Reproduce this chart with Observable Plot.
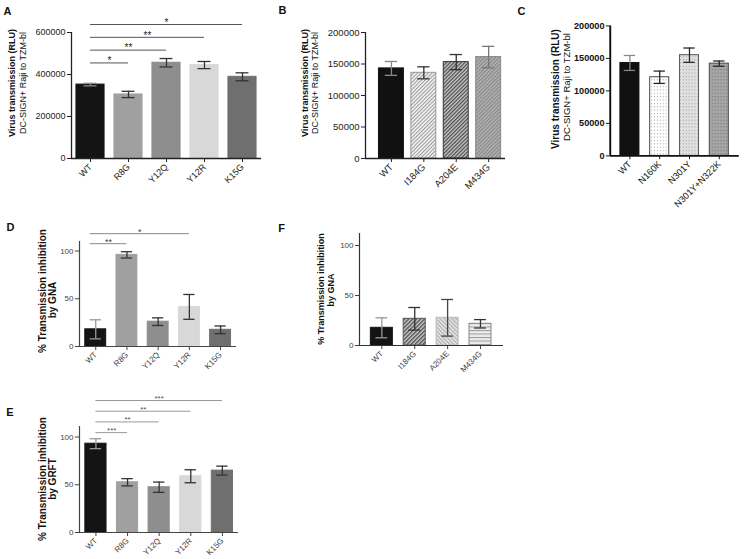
<!DOCTYPE html>
<html>
<head>
<meta charset="utf-8">
<script src="https://cdn.jsdelivr.net/npm/d3@7"></script>
<script src="https://cdn.jsdelivr.net/npm/@observablehq/plot@0.6"></script>
<style>
  html, body { margin: 0; padding: 0; background: #fff; }
  #wrap { position: relative; width: 750px; height: 559px; overflow: hidden; background: #fff;
          font-family: "Liberation Sans", Arial, sans-serif; }
  .pane { position: absolute; }
  .rt { position: absolute; white-space: nowrap; line-height: 1; color: #111;
        transform: translate(-50%, -50%) rotate(-90deg); }
  .lt { position: absolute; font-weight: bold; color: #111; line-height: 1; transform: translate(-50%, -50%); }
</style>
</head>
<body>
<svg width="0" height="0" style="position:absolute">
  <defs>
    <pattern id="hatchLight" patternUnits="userSpaceOnUse" width="2.6" height="2.6" patternTransform="rotate(45)">
      <rect width="2.6" height="2.6" fill="#f2f2f2"/><rect x="0" y="0" width="1" height="2.6" fill="#9a9a9a"/>
    </pattern>
    <pattern id="hatchDark" patternUnits="userSpaceOnUse" width="2.6" height="2.6" patternTransform="rotate(45)">
      <rect width="2.6" height="2.6" fill="#c8c8c8"/><rect x="0" y="0" width="1.2" height="2.6" fill="#4a4a4a"/>
    </pattern>
    <pattern id="hatchMid" patternUnits="userSpaceOnUse" width="2.6" height="2.6" patternTransform="rotate(45)">
      <rect width="2.6" height="2.6" fill="#b0b0b0"/><rect x="0" y="0" width="1" height="2.6" fill="#858585"/>
    </pattern>
    <pattern id="dotsWhite" patternUnits="userSpaceOnUse" width="3" height="3.5">
      <rect width="3" height="3.5" fill="#fff"/><rect x="1" y="1" width="1" height="1" fill="#9a9a9a"/>
    </pattern>
    <pattern id="dotsLight" patternUnits="userSpaceOnUse" width="3" height="3.5">
      <rect width="3" height="3.5" fill="#e0e0e0"/><rect x="1" y="1" width="1" height="1" fill="#999"/>
    </pattern>
    <pattern id="dotsDark" patternUnits="userSpaceOnUse" width="3" height="3.5">
      <rect width="3" height="3.5" fill="#a6a6a6"/><rect x="1" y="1" width="1" height="1" fill="#666"/>
    </pattern>
    <pattern id="hatchF1" patternUnits="userSpaceOnUse" width="2.8" height="2.8" patternTransform="rotate(45)">
      <rect width="2.8" height="2.8" fill="#c4c4c4"/><rect x="0" y="0" width="1.2" height="2.8" fill="#444"/>
    </pattern>
    <pattern id="hatchF2" patternUnits="userSpaceOnUse" width="2.8" height="2.8" patternTransform="rotate(-45)">
      <rect width="2.8" height="2.8" fill="#e4e4e4"/><rect x="0" y="0" width="1.1" height="2.8" fill="#aaa"/>
    </pattern>
    <pattern id="stripesH" patternUnits="userSpaceOnUse" width="4" height="3.5">
      <rect width="4" height="3.5" fill="#ececec"/><rect x="0" y="0" width="4" height="1" fill="#9a9a9a"/>
    </pattern>
  </defs>
</svg>
<div id="wrap"></div>
<script>
// ---------------- data ----------------
const catsA = ["WT", "R8G", "Y12Q", "Y12R", "K15G"];
const valsA = [352000, 305000, 456000, 445000, 389000];
const errsA = [6000, 15000, 20000, 17000, 19000];
const sigA = [["WT", "R8G", "*"], ["WT", "Y12Q", "**"], ["WT", "Y12R", "**"], ["WT", "K15G", "*"]];

const catsB = ["WT", "I184G", "A204E", "M434G"];
const valsB = [143000, 136000, 153000, 161000];
const errsB = [11000, 9500, 12000, 17000];

const catsC = ["WT", "N160K", "N301Y", "N301Y+N322K"];
const valsC = [143000, 121000, 155000, 142000];
const errsC = [11500, 9500, 11000, 4000];

const catsD = ["WT", "R8G", "Y12Q", "Y12R", "K15G"];
const valsD = [18, 96, 26, 41.5, 17.5];
const errsD = [10, 3.3, 4, 13, 4];
const sigD = [["WT", "R8G", "**"], ["WT", "Y12R", "*"]];

const catsE = ["WT", "R8G", "Y12Q", "Y12R", "K15G"];
const valsE = [93, 52.6, 47.4, 58.9, 64.8];
const errsE = [5.2, 3.8, 5.4, 6.8, 4.7];
const sigE = [["WT", "R8G", "***"], ["WT", "Y12Q", "**"], ["WT", "Y12R", "**"], ["WT", "K15G", "***"]];

const catsF = ["WT", "I184G", "A204E", "M434G"];
const valsF = [17.7, 26.7, 27.7, 21.7];
const errsF = [10, 11.3, 18.3, 4.2];

const ticksRLU600 = [0, 200000, 400000, 600000];
const ticksRLU200 = [0, 50000, 100000, 150000, 200000];
const ticksPct = [0, 50, 100];

// ---------------- styles ----------------
const FONT = "Liberation Sans, Arial, sans-serif";
const greysA = ["#141414", "#a0a0a0", "#8e8e8e", "#d8d8d8", "#6f6f6f"];
const errGreysA = ["#8a8a8a", "#333", "#333", "#333", "#333"];

const wrap = document.getElementById("wrap");

function drawPanel(cfg) {
  const n = cfg.cats.length;
  const data = cfg.cats.map((c, i) => ({i, c, v: cfg.vals[i], e: cfg.errs[i]}));
  const bw = cfg.barW / 2, cw = cfg.capW / 2;
  const mL = 60, mR = 12, mT = cfg.mT, mB = cfg.mB;
  const idx = Object.fromEntries(cfg.cats.map((c, i) => [c, i]));
  const comps = (cfg.sig || []).map(([a, b, t], k) => ({x1: idx[a] - (cfg.sigStart || 0), x2: idx[b], t, y: cfg.sigBase + k * cfg.sigStep}));
  const width = Math.round(cfg.right - cfg.left) + mL + mR;
  const height = Math.round(cfg.bottom - cfg.top) + mT + mB;
  const svg = Plot.plot({
    width, height,
    marginLeft: mL, marginRight: mR, marginTop: mT, marginBottom: mB,
    style: {fontFamily: FONT, fontSize: cfg.tickFont + "px", color: cfg.tickColor, background: "transparent", overflow: "visible"},
    x: {type: "linear", domain: [-cfg.gapL, n - 1 + cfg.gapR], ticks: d3.range(n), tickFormat: i => cfg.cats[i],
        tickRotate: -45, tickSize: 4, tickPadding: 3, label: null},
    y: {domain: [0, cfg.ymax], ticks: cfg.yTicks, tickFormat: d3.format("d"), tickSize: 4, tickPadding: 2, label: null},
    color: {type: "identity"},
    marks: [
      Plot.rectY(data, {x1: d => d.i - bw, x2: d => d.i + bw, y1: 0, y2: d => d.v,
                        fill: d => cfg.fill[d.i], stroke: d => cfg.stroke[d.i], strokeWidth: 1}),
      Plot.ruleX(data, {x: d => d.i, y1: d => d.v - d.e, y2: d => d.v + d.e, stroke: d => cfg.err[d.i], strokeWidth: 1.3}),
      Plot.ruleY(data, {y: d => d.v + d.e, x1: d => d.i - cw, x2: d => d.i + cw, stroke: d => cfg.err[d.i], strokeWidth: 1.3}),
      Plot.ruleY(data, {y: d => d.v - d.e, x1: d => d.i - cw, x2: d => d.i + cw, stroke: d => cfg.err[d.i], strokeWidth: 1.3}),
      Plot.ruleY([0], {stroke: cfg.axis, strokeWidth: cfg.axisW}),
      Plot.ruleX([-cfg.gapL], {stroke: cfg.axis, strokeWidth: cfg.axisW}),
      Plot.ruleY(comps, {y: "y", x1: "x1", x2: "x2", stroke: cfg.sigColor, strokeWidth: 1}),
      Plot.text(comps, {x: d => (d.x1 + d.x2) / 2, y: "y", text: "t", dy: cfg.sigDy, fill: cfg.sigText, fontSize: cfg.sigFont})
    ]
  });
  if (cfg.tickBold) {
    svg.querySelectorAll('[aria-label^="y-axis"]').forEach(g => g.setAttribute("font-weight", "bold"));
  }
  const div = document.createElement("div");
  div.className = "pane";
  div.style.left = (cfg.left - mL) + "px";
  div.style.top = (cfg.top - mT) + "px";
  div.appendChild(svg);
  wrap.appendChild(div);
}

function rotText(text, cx, cy, size, weight) {
  const d = document.createElement("div");
  d.className = "rt";
  d.textContent = text;
  d.style.left = cx + "px"; d.style.top = cy + "px";
  d.style.fontSize = size + "px"; d.style.fontWeight = weight;
  wrap.appendChild(d);
}
function letter(text, cx, cy) {
  const d = document.createElement("div");
  d.className = "lt";
  d.textContent = text;
  d.style.left = cx + "px"; d.style.top = cy + "px";
  d.style.fontSize = "11px";
  wrap.appendChild(d);
}

// Panel A
drawPanel({cats: catsA, vals: valsA, errs: errsA, sig: sigA,
  left: 71, right: 261, top: 32.3, bottom: 158.7, ymax: 600000, yTicks: ticksRLU600,
  gapL: 0.5, gapR: 0.5, barW: 0.74, capW: 0.34, mT: 30, mB: 50,
  sigBase: 455000, sigStep: 61000, sigColor: "#555", sigText: "#222", sigFont: 10, sigDy: -2,
  fill: greysA, stroke: greysA, err: errGreysA,
  tickFont: 9, tickColor: "#222", axis: "#222", axisW: 1.3});

// Panel B
drawPanel({cats: catsB, vals: valsB, errs: errsB,
  left: 365, right: 505, top: 32.3, bottom: 158.3, ymax: 200000, yTicks: ticksRLU200,
  gapL: 0.8, gapR: 0.52, barW: 0.77, capW: 0.38, mT: 20, mB: 50,
  fill: ["#111", "url(#hatchLight)", "url(#hatchDark)", "url(#hatchMid)"],
  stroke: ["#111", "#999", "#333", "#888"], err: ["#888", "#333", "#333", "#777"],
  tickFont: 9.5, tickColor: "#222", axis: "#222", axisW: 1.3});

// Panel C
drawPanel({cats: catsC, vals: valsC, errs: errsC,
  left: 611.7, right: 746, top: 25.7, bottom: 161, ymax: 200000, yTicks: ticksRLU200,
  gapL: 0.66, gapR: 0.67, barW: 0.64, capW: 0.38, mT: 15, mB: 60,
  fill: ["#111", "url(#dotsWhite)", "url(#dotsLight)", "url(#dotsDark)"],
  stroke: ["#111", "#444", "#555", "#444"], err: ["#888", "#222", "#222", "#222"],
  tickFont: 9.5, tickBold: true, tickColor: "#111", axis: "#111", axisW: 2});

// Panel D
drawPanel({cats: catsD, vals: valsD, errs: errsD, sig: sigD,
  left: 79.3, right: 236.7, top: 240.5, bottom: 345, ymax: 110, yTicks: ticksPct,
  gapL: 0.52, gapR: 0.51, barW: 0.67, capW: 0.36, mT: 20, mB: 50,
  sigBase: 107.7, sigStep: 10.5, sigStart: 0.18, sigColor: "#888", sigText: "#444", sigFont: 9, sigDy: -2,
  fill: greysA, stroke: greysA, err: ["#999", "#333", "#333", "#333", "#333"],
  tickFont: 8, tickColor: "#444", axis: "#444", axisW: 1.2});

// Panel E
drawPanel({cats: catsE, vals: valsE, errs: errsE, sig: sigE,
  left: 79, right: 238.3, top: 426.2, bottom: 532.3, ymax: 111, yTicks: ticksPct,
  gapL: 0.52, gapR: 0.51, barW: 0.67, capW: 0.36, mT: 35, mB: 40,
  sigBase: 104.6, sigStep: 11.2, sigColor: "#999", sigText: "#555", sigFont: 8, sigDy: -2,
  fill: greysA, stroke: greysA, err: ["#999", "#333", "#333", "#333", "#333"],
  tickFont: 8, tickColor: "#444", axis: "#444", axisW: 1.2});

// Panel F
drawPanel({cats: catsF, vals: valsF, errs: errsF,
  left: 359.3, right: 503, top: 233, bottom: 345, ymax: 112, yTicks: ticksPct,
  gapL: 0.68, gapR: 0.7, barW: 0.67, capW: 0.36, mT: 15, mB: 50,
  fill: ["#141414", "url(#hatchF1)", "url(#hatchF2)", "url(#stripesH)"],
  stroke: ["#141414", "#555", "#bbb", "#888"], err: ["#999", "#333", "#444", "#333"],
  tickFont: 8, tickColor: "#444", axis: "#333", axisW: 1.2});

// Axis titles
rotText("Virus transmission  (RLU)", 12, 82.5, 9, "bold");
rotText("DC-SIGN+ Raji to TZM-bl", 23, 82.5, 9, "normal");
rotText("Virus transmission  (RLU)", 305, 82.5, 9, "bold");
rotText("DC-SIGN+ Raji to TZM-bl", 315, 82.5, 9, "normal");
rotText("Virus transmission  (RLU)", 556, 89, 10, "bold");
rotText("DC-SIGN+ Raji to TZM-bl", 567, 87, 9.5, "normal");
rotText("% Transmission inhibition", 43, 291, 10, "bold");
rotText("by GNA", 53, 300, 10, "bold");
rotText("% Transmission inhibition", 43, 479, 10, "bold");
rotText("by GRFT", 53, 479, 10, "bold");
rotText("% Transmission inhibition", 321, 289, 9, "bold");
rotText("by GNA", 331, 290, 9, "bold");

// Panel letters
letter("A", 7.5, 10.5);
letter("B", 282.5, 9.5);
letter("C", 521.5, 11);
letter("D", 10.5, 227);
letter("F", 281.5, 228);
letter("E", 10, 411.5);
</script>
</body>
</html>
